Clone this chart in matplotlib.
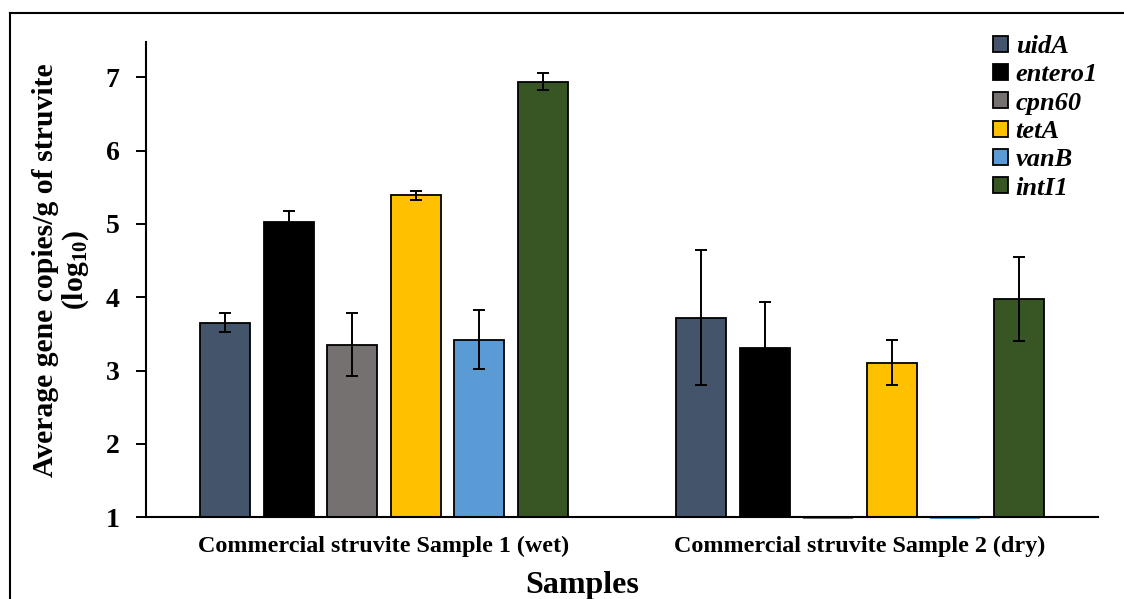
import matplotlib
matplotlib.use('Agg')
import matplotlib.pyplot as plt
from matplotlib.lines import Line2D
from matplotlib.patches import Patch
import numpy as np

samples = ['Commercial struvite Sample 1 (wet)', 'Commercial struvite Sample 2 (dry)']
genes = ['uidA', 'entero1', 'cpn60', 'tetA', 'vanB', 'intI1']
colors = ['#44546A', '#000000', '#767171', '#FFC000', '#5B9BD5', '#375623']

# mean log10 copies per gene, one value per sample
means = {
    'uidA': [3.65, 3.72],
    'entero1': [5.02, 3.31],
    'cpn60': [3.35, 1.00],
    'tetA': [5.39, 3.11],
    'vanB': [3.42, 1.00],
    'intI1': [6.94, 3.98],
}
errors = {
    'uidA': [0.13, 0.92],
    'entero1': [0.16, 0.62],
    'cpn60': [0.43, 0.0],
    'tetA': [0.065, 0.31],
    'vanB': [0.40, 0.0],
    'intI1': [0.12, 0.57],
}

plt.rcParams['font.family'] = 'Liberation Serif'
plt.rcParams['font.weight'] = 'bold'
plt.rcParams['axes.labelweight'] = 'bold'
plt.rcParams['mathtext.fontset'] = 'custom'
plt.rcParams['mathtext.rm'] = 'Liberation Serif:bold'
plt.rcParams['mathtext.it'] = 'Liberation Serif:bold:italic'
plt.rcParams['mathtext.bf'] = 'Liberation Serif:bold'

W, H = 1124, 599
fig = plt.figure(figsize=(W / 100, H / 100), dpi=100)
ax = fig.add_axes([146 / W, 1 - 517.3 / H, (1098 - 146) / W, (517.3 - 42) / H])

base = 1.0
step = 0.1333
width = 0.105
x = np.arange(len(samples))
for i, gene in enumerate(genes):
    xs = x + (i - 2.5) * step
    vals = np.array(means[gene])
    errs = np.array(errors[gene])
    edges = ['black' if v > base else colors[i] for v in vals]
    ax.bar(xs, vals - base, width, bottom=base, color=colors[i], edgecolor=edges,
           linewidth=1.3, clip_on=False, zorder=2)
    mask = errs > 0
    ax.errorbar(xs[mask], vals[mask], yerr=errs[mask], fmt='none', ecolor='black',
                elinewidth=1.4, capsize=4.3, capthick=1.4, zorder=3)
    # flat bars sit just under the axis line, as in the original
    flat = vals <= base
    ax.bar(xs[flat], np.full(flat.sum(), -0.02), width, bottom=base, color=colors[i],
           linewidth=0, clip_on=False, zorder=1)

ax.set_xlim(-0.5, 1.5)
ax.set_ylim(1, 7.48)
ax.set_yticks(range(1, 8))
ax.set_xticks(x)
ax.set_xticklabels(samples, fontsize=17.4, fontweight='bold')
ax.tick_params(axis='x', length=0, pad=13)
ax.tick_params(axis='y', length=7, width=1.4, labelsize=20, pad=12)
for s in ['top', 'right']:
    ax.spines[s].set_visible(False)
for s in ['left', 'bottom']:
    ax.spines[s].set_linewidth(1.5)
    ax.spines[s].set_zorder(4)

ax.set_xlabel('Samples', fontsize=23, fontweight='bold')
ax.xaxis.set_label_coords((582 - 146) / 952, -(571 - 517.3) / 475.3)
ax.set_ylabel('Average gene copies/g of struvite\n(log$_{\\mathrm{10}}$)', fontsize=21.4,
              fontweight='bold', linespacing=1.05)
ax.yaxis.set_label_coords((91 - 146) / 952, (517.3 - 270) / 475.3)

handles = [Patch(facecolor=c, edgecolor='black', linewidth=1.3) for c in colors]
ax.legend(handles, genes, loc='upper right', bbox_to_anchor=(1111 / W, 1 - 22 / H),
          bbox_transform=fig.transFigure, frameon=False, handlelength=0.55, handleheight=0.55,
          handletextpad=0.3, labelspacing=0.2, borderpad=0,
          prop={'family': 'Liberation Serif', 'weight': 'bold', 'style': 'italic', 'size': 19})

# outer border of the original figure (cut off on the right and bottom)
fig.add_artist(Line2D([10 / W, 10 / W], [0, 1 - 13 / H], transform=fig.transFigure, color='black', lw=1.5))
fig.add_artist(Line2D([10 / W, 1], [1 - 13 / H, 1 - 13 / H], transform=fig.transFigure, color='black', lw=1.5))

fig.savefig('out.png', dpi=100)
